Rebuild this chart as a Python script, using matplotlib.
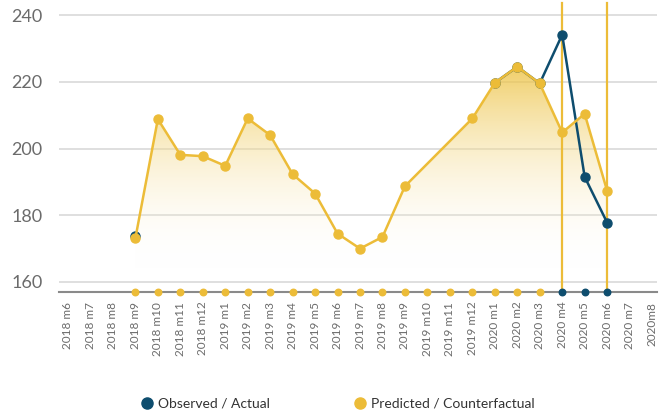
import numpy as np
import matplotlib
matplotlib.use("Agg")
import matplotlib.pyplot as plt
from matplotlib.lines import Line2D
from matplotlib.colors import LinearSegmentedColormap

plt.rcParams['font.family'] = ['Lato', 'DejaVu Sans']

# месяцы на оси x
months = ['2018 m6', '2018 m7', '2018 m8', '2018 m9', '2018 m10', '2018 m11', '2018 m12',
          '2019 m1', '2019 m2', '2019 m3', '2019 m4', '2019 m5', '2019 m6', '2019 m7',
          '2019 m8', '2019 m9', '2019 m10', '2019 m11', '2019 m12', '2020 m1', '2020 m2',
          '2020 m3', '2020 m4', '2020 m5', '2020 m6', '2020 m7', '2020m8']

# прогноз (контрфактический)
pred_months = ['2018 m9', '2018 m10', '2018 m11', '2018 m12', '2019 m1', '2019 m2', '2019 m3',
               '2019 m4', '2019 m5', '2019 m6', '2019 m7', '2019 m8', '2019 m9', '2019 m12',
               '2020 m1', '2020 m2', '2020 m3', '2020 m4', '2020 m5', '2020 m6']
pred_values = [173.1, 208.8, 198.1, 197.7, 194.8, 209.0, 204.0, 192.3, 186.5, 174.5,
               170.0, 173.5, 188.7, 209.0, 219.7, 224.5, 219.5, 204.8, 210.4, 187.3]

# наблюдаемые значения (линия разрывается между отдельными участками)
obs_parts = [
    (['2018 m9'], [173.9]),
    (['2020 m1', '2020 m2', '2020 m3', '2020 m4', '2020 m5', '2020 m6'],
     [219.7, 224.5, 219.5, 234.1, 191.5, 177.8]),
]

# точки на оси
axis_pred = months[3:22]
axis_obs = ['2020 m4', '2020 m5', '2020 m6']
vlines = ['2020 m4', '2020 m6']

blue = '#0e4d6e'
yellow = '#ecbc38'
grey = '#6b6b6b'

idx = {m: i for i, m in enumerate(months)}
px = np.array([idx[m] for m in pred_months])
py = np.array(pred_values)

fig = plt.figure(figsize=(6.68, 4.13), dpi=100)
ax = fig.add_axes([59 / 668, 1 - 292 / 413, 598 / 668, 289 / 413])
ymin, ymax = 157, 243.6
ax.set_xlim(-0.4, 26.22)
ax.set_ylim(ymin, ymax)

for v in [160, 180, 200, 220, 240]:
    ax.axhline(v, color='#dcdcdc', lw=1.3, zorder=0)

# градиентная заливка под прогнозом
fill_bottom = 164
poly = ax.fill_between(px, py, fill_bottom, color='none', lw=0)
cmap = LinearSegmentedColormap.from_list('g', [(1, 1, 1, 0), (0.93, 0.76, 0.25, 0.8)])
grad = np.linspace(0, 1, 256).reshape(-1, 1)
im = ax.imshow(grad, cmap=cmap, origin='lower', aspect='auto',
               extent=[px.min(), px.max(), fill_bottom, 225], zorder=1)
im.set_clip_path(poly.get_paths()[0], transform=ax.transData)

for m in vlines:
    ax.plot([idx[m], idx[m]], [ymin, ymax], color=yellow, lw=1.6, zorder=2, clip_on=False)

for ms_, vals in obs_parts:
    ax.plot([idx[m] for m in ms_], vals, color=blue, lw=1.8, marker='o', ms=6.5, zorder=3)
ax.plot(px, py, color=yellow, lw=1.8, marker='o', ms=6.5, zorder=4)

ax.scatter([idx[m] for m in axis_pred], [ymin] * len(axis_pred), s=22, color=yellow,
           zorder=5, clip_on=False)
ax.scatter([idx[m] for m in axis_obs], [ymin] * len(axis_obs), s=22, color=blue,
           zorder=5, clip_on=False)

for s in ['top', 'right', 'left']:
    ax.spines[s].set_visible(False)
ax.spines['bottom'].set_color('#8a8a8a')
ax.spines['bottom'].set_linewidth(1.5)
ax.spines['bottom'].set_zorder(4.5)

ax.set_yticks([160, 180, 200, 220, 240])
ax.set_xticks(range(len(months)))
ax.set_xticklabels(months, rotation=90, fontsize=8.5, color=grey)
ax.tick_params(axis='y', length=0, pad=12, labelsize=13, labelcolor=grey)
ax.tick_params(axis='x', length=0, pad=7)

handles = [Line2D([], [], ls='none', marker='o', ms=8, color=blue, label='Observed / Actual'),
           Line2D([], [], ls='none', marker='o', ms=8, color=yellow, label='Predicted / Counterfactual')]
fig.legend(handles=handles, loc='center', bbox_to_anchor=(0.505, 1 - 404 / 413), ncol=2,
           frameon=False, fontsize=10, labelcolor='#333333', columnspacing=6,
           handletextpad=0.3, handlelength=1)

fig.savefig('out.png', dpi=100)
